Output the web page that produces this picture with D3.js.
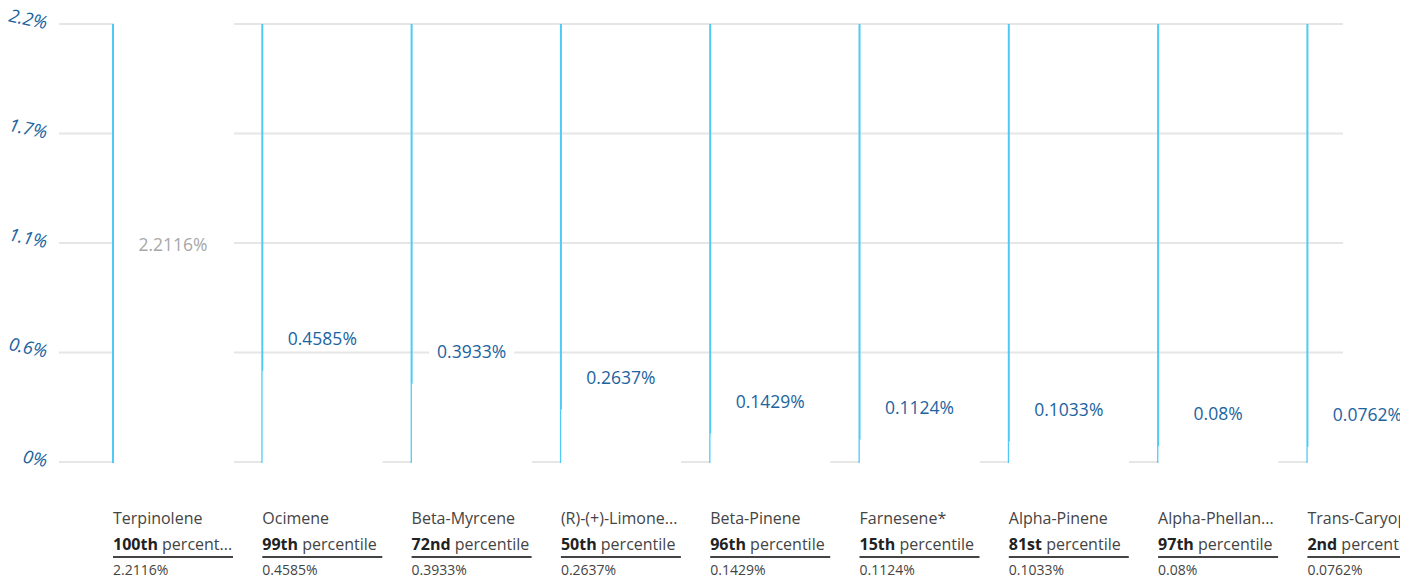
<!DOCTYPE html>
<html>
<head>
<meta charset="utf-8">
<script src="https://cdn.jsdelivr.net/npm/d3@7"></script>
<style>
  body { margin: 0; background: #fff; }
  svg { display: block; overflow: hidden; }
  text { font-family: "Open Sans", "Noto Sans", sans-serif; }
</style>
</head>
<body>
<div id="chart"></div>
<script>
// terpene values (% of sample) and percentile rank
const names = ['Terpinolene', 'Ocimene', 'Beta-Myrcene', '(R)-(+)-Limonene', 'Beta-Pinene',
    'Farnesene*', 'Alpha-Pinene', 'Alpha-Phellandrene', 'Trans-Caryophyllene'];
const values = [2.2116, 0.4585, 0.3933, 0.2637, 0.1429, 0.1124, 0.1033, 0.08, 0.0762];
const percentiles = ['100th', '99th', '72nd', '50th', '96th', '15th', '81st', '97th', '2nd'];
const yTicks = [0, 0.55, 1.1, 1.65, 2.2];
const yTickLabels = ['0%', '0.6%', '1.1%', '1.7%', '2.2%'];

const width = 1400;
const height = 579;
const barW = 120;

const svg = d3.select('#chart')
    .append('svg')
    .attr('width', width)
    .attr('height', height);

const yScale = d3.scaleLinear()
    .domain([0, 2.2])
    .range([462, 24]);

const xScale = d3.scaleBand()
    .domain(names)
    .range([113, 113 + names.length * 149.3])
    .padding(0);

// grid
svg.append('g')
    .selectAll('line')
    .data(yTicks)
    .join('line')
    .attr('x1', 59)
    .attr('x2', 1343)
    .attr('y1', d => yScale(d))
    .attr('y2', d => yScale(d))
    .attr('stroke', '#e6e6e6')
    .attr('stroke-width', 2);

// y labels
svg.append('g')
    .selectAll('text')
    .data(yTicks)
    .join('text')
    .attr('transform', d => `translate(47,${yScale(d) - 1}) rotate(12)`)
    .attr('text-anchor', 'end')
    .attr('dy', '0.35em')
    .attr('font-size', 18)
    .attr('font-style', 'italic')
    .attr('fill', '#1b64a0')
    .text((d, i) => yTickLabels[i]);

const cols = svg.append('g')
    .selectAll('g')
    .data(names.map((n, i) => ({ name: n, value: values[i], pct: percentiles[i] })))
    .join('g')
    .attr('transform', d => `translate(${xScale(d.name)},0)`);

// full height blue rule
cols.append('line')
    .attr('x1', 0).attr('x2', 0)
    .attr('y1', yScale(2.2)).attr('y2', yScale(0) + 1)
    .attr('stroke', '#4fcaf7')
    .attr('stroke-width', 2);

// white bar
cols.append('rect')
    .attr('x', d => d.value > 2.2 ? 1 : 0.3)
    .attr('y', d => yScale(Math.min(d.value, 2.2)) - (d.value > 2.2 ? 2 : 0))
    .attr('width', barW)
    .attr('height', d => yScale(0) + 2 - yScale(Math.min(d.value, 2.2)) + (d.value > 2.2 ? 2 : 0))
    .attr('fill', '#fff');

// value labels
const vl = cols.append('g')
    .attr('transform', d => d.value > 2.2
        ? `translate(${barW / 2},${(yScale(0) + yScale(2.2)) / 2 + 2})`
        : `translate(${barW / 2},${yScale(d.value) - 32})`);
vl.each(function (d) {
    const g = d3.select(this);
    const bg = g.append('rect').attr('fill', '#fff');
    const t = g.append('text')
        .attr('text-anchor', 'middle')
        .attr('dy', '0.35em')
        .attr('font-size', 17.5)
        .attr('fill', d.value > 2.2 ? '#a8a8a8' : '#1b64a0')
        .text(d.value + '%');
    const bb = t.node().getBBox();
    bg.attr('x', bb.x - 8).attr('y', bb.y).attr('width', bb.width + 16).attr('height', bb.height);
});

function fit(sel, maxW) {
    const node = sel.node();
    let txt = sel.text();
    if (node.getComputedTextLength() <= maxW) return;
    while (txt.length && node.getComputedTextLength() > maxW) {
        txt = txt.slice(0, -1);
        sel.text(txt.trimEnd() + '...');
    }
}

// bottom labels
cols.append('text')
    .attr('y', 524)
    .attr('font-size', 16)
    .attr('fill', '#444')
    .text(d => d.name)
    .each(function () { fit(d3.select(this), barW); });

cols.each(function (d) {
    const t = d3.select(this).append('text')
        .attr('y', 550)
        .attr('font-size', 16)
        .attr('fill', '#444');
    t.append('tspan').attr('font-weight', 'bold').attr('fill', '#222').text(d.pct);
    const rest = t.append('tspan').text(' percentile');
    let s = ' percentile';
    while (t.node().getComputedTextLength() > barW && s.length > 1) {
        s = s.slice(0, -1);
        rest.text(s.trimEnd() + '...');
    }
});

cols.append('line')
    .attr('x1', 0).attr('x2', barW)
    .attr('y1', 557).attr('y2', 557)
    .attr('stroke', '#444')
    .attr('stroke-width', 2);

cols.append('text')
    .attr('y', 575)
    .attr('font-size', 14)
    .attr('fill', '#444')
    .text(d => d.value + '%');
</script>
</body>
</html>
